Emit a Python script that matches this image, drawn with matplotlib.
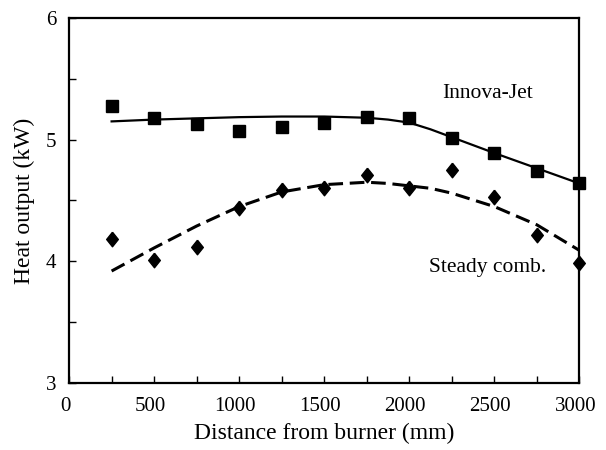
import numpy as np
import matplotlib
matplotlib.use('Agg')
import matplotlib.pyplot as plt
import matplotlib.transforms as mtransforms
from matplotlib.ticker import MultipleLocator

# distance from burner (mm)
distance = [250, 500, 750, 1000, 1250, 1500, 1750, 2000, 2250, 2500, 2750, 3000]

# measured heat output (kW)
innova_pts = [5.28, 5.18, 5.13, 5.07, 5.10, 5.14, 5.19, 5.18, 5.01, 4.89, 4.74, 4.64]
steady_pts = [4.18, 4.01, 4.12, 4.44, 4.59, 4.60, 4.71, 4.60, 4.75, 4.53, 4.22, 3.99]

# trend lines
fit_distance = [250, 500, 750, 1000, 1250, 1500, 1750, 1875, 2000, 2125, 2250, 2500, 2750, 3000]
innova_fit = [5.15, 5.165, 5.175, 5.185, 5.19, 5.19, 5.18, 5.165, 5.14, 5.085, 5.02, 4.89, 4.765, 4.64]
steady_fit = [3.92, 4.11, 4.29, 4.45, 4.57, 4.63, 4.65, 4.64, 4.62, 4.60, 4.56, 4.45, 4.30, 4.09]

plt.rcParams['font.family'] = ['Liberation Serif', 'DejaVu Serif']

fig = plt.figure(figsize=(6.06, 4.5), dpi=100)
ax = fig.add_axes([0.114, 0.149, 0.842, 0.811])

diamond = [(0, 1), (0.8, 0), (0, -1), (-0.8, 0), (0, 1)]

ax.plot(fit_distance, innova_fit, color='black', linewidth=1.6)
ax.plot(fit_distance, steady_fit, color='black', linewidth=2.2, dashes=(4.8, 2.2))
ax.plot(distance, innova_pts, linestyle='none', marker='s', markersize=8.5, color='black', clip_on=False)
ax.plot(distance, steady_pts, linestyle='none', marker=diamond, markersize=10.5, color='black', clip_on=False)

ax.text(2460, 5.38, 'Innova-Jet', fontsize=15.5, ha='center', va='center')
ax.text(2460, 3.95, 'Steady comb.', fontsize=15.5, ha='center', va='center')

ax.set_xlim(0, 3000)
ax.set_ylim(3, 6)
ax.xaxis.set_major_locator(MultipleLocator(500))
ax.xaxis.set_minor_locator(MultipleLocator(250))
ax.yaxis.set_major_locator(MultipleLocator(1))
ax.yaxis.set_minor_locator(MultipleLocator(0.5))
ax.tick_params(axis='both', which='both', direction='in', length=5, width=1, labelsize=15)
ax.tick_params(axis='x', pad=10)
ax.tick_params(axis='y', pad=9)
for s in ax.spines.values():
    s.set_linewidth(1.6)

# excel puts the x labels a bit left of the ticks
shift = mtransforms.ScaledTranslation(-4 / 100, 0, fig.dpi_scale_trans)
for lab in ax.get_xticklabels():
    lab.set_transform(lab.get_transform() + shift)

ax.set_xlabel('Distance from burner (mm)', fontsize=17, labelpad=5)
ax.set_ylabel('Heat output (kW)', fontsize=17, labelpad=8)

fig.savefig('out.png', dpi=100)
